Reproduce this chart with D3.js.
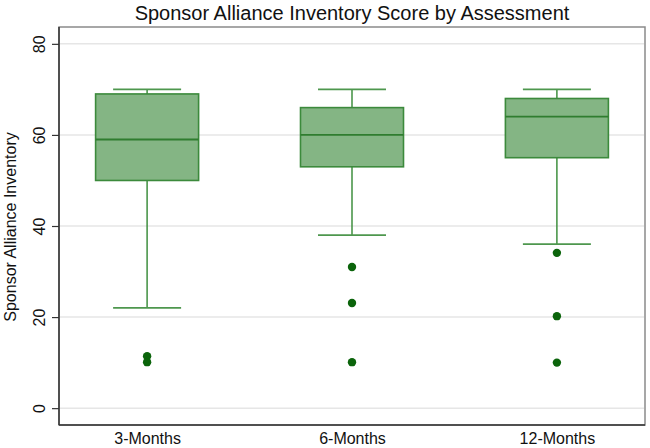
<!DOCTYPE html>
<html>
<head>
    <meta charset="utf-8">
    <title>Sponsor Alliance Inventory</title>
    <script src="https://d3js.org/d3.v7.min.js"></script>
    <style type="text/css">
        body { margin: 0; background: #fff; }
        text { font-family: 'Liberation Sans', Arial, sans-serif; }
    </style>
</head>
<body>
    <script type="text/javascript">
        // data
        var groups = ["3-Months", "6-Months", "12-Months"];
        var q1 = [50, 53, 55];
        var median = [59, 60, 64];
        var q3 = [69, 66, 68];
        var whiskerLow = [22, 38, 36];
        var whiskerHigh = [70, 70, 70];
        var outliers = [[11.4, 10.1], [31, 23.1, 10.1], [34.1, 20.2, 10]];
        var yTicks = [0, 20, 40, 60, 80];

        var width = 650, height = 448;
        var plotL = 59, plotR = 645, plotT = 27, plotB = 425;

        var svg = d3.select("body")
                    .append("svg")
                    .attr("width", width)
                    .attr("height", height);

        var x = d3.scalePoint().domain(groups).range([plotL, plotR]).padding(0.43);
        var y = d3.scaleLinear().domain([-3.7, 83.7]).range([plotB, plotT]);

        // frame
        svg.append("rect")
            .attr("x", plotL).attr("y", plotT)
            .attr("width", plotR - plotL).attr("height", plotB - plotT)
            .attr("fill", "none")
            .attr("stroke", "#8a8a8a")
            .attr("stroke-width", 1.5);

        // grid
        svg.selectAll("line.grid")
            .data(yTicks)
            .enter()
            .append("line")
            .attr("class", "grid")
            .attr("x1", plotL + 1).attr("x2", plotR - 1)
            .attr("y1", function(d) { return y(d); })
            .attr("y2", function(d) { return y(d); })
            .attr("stroke", "#e6e6e6")
            .attr("stroke-width", 1.5);

        // y axis
        var yAxis = svg.append("g")
            .attr("transform", "translate(" + plotL + ",0)")
            .call(d3.axisLeft(y).tickValues(yTicks).tickSize(7).tickPadding(6));
        yAxis.select(".domain").attr("stroke", "#333").attr("stroke-width", 1.5)
            .attr("d", "M0," + plotT + "V" + plotB);
        yAxis.selectAll(".tick line").attr("stroke", "#333").attr("stroke-width", 1.2);
        yAxis.selectAll(".tick text")
            .attr("font-size", "16px")
            .attr("fill", "#111")
            .attr("x", null)
            .attr("y", 0)
            .attr("text-anchor", "middle")
            .attr("transform", "translate(-20,0) rotate(-90)")
            .attr("dy", "0.35em");

        // x axis
        var xAxis = svg.append("g")
            .attr("transform", "translate(0," + plotB + ")")
            .call(d3.axisBottom(x).tickSize(0).tickPadding(8));
        xAxis.select(".domain").attr("stroke", "#333").attr("stroke-width", 1.5)
            .attr("d", "M" + plotL + ",0H" + plotR);
        xAxis.selectAll(".tick text")
            .attr("font-size", "16px")
            .attr("fill", "#111");

        var boxW = 103, capW = 68;
        var boxes = svg.selectAll("g.box")
            .data(groups)
            .enter()
            .append("g")
            .attr("class", "box");

        // whiskers
        boxes.append("line")
            .attr("x1", function(d) { return x(d); })
            .attr("x2", function(d) { return x(d); })
            .attr("y1", function(d, i) { return y(whiskerHigh[i]); })
            .attr("y2", function(d, i) { return y(whiskerLow[i]); })
            .attr("stroke", "#3f8f3f").attr("stroke-width", 1.5);
        [whiskerHigh, whiskerLow].forEach(function(arr) {
            boxes.append("line")
                .attr("x1", function(d) { return x(d) - capW / 2; })
                .attr("x2", function(d) { return x(d) + capW / 2; })
                .attr("y1", function(d, i) { return y(arr[i]); })
                .attr("y2", function(d, i) { return y(arr[i]); })
                .attr("stroke", "#4e974e").attr("stroke-width", 1.8);
        });

        boxes.append("rect")
            .attr("x", function(d) { return x(d) - boxW / 2; })
            .attr("width", boxW)
            .attr("y", function(d, i) { return y(q3[i]); })
            .attr("height", function(d, i) { return y(q1[i]) - y(q3[i]); })
            .attr("fill", "#84b584")
            .attr("stroke", "#3c8a3c")
            .attr("stroke-width", 1.6);

        boxes.append("line")
            .attr("x1", function(d) { return x(d) - boxW / 2; })
            .attr("x2", function(d) { return x(d) + boxW / 2; })
            .attr("y1", function(d, i) { return y(median[i]); })
            .attr("y2", function(d, i) { return y(median[i]); })
            .attr("stroke", "#2f7d2f").attr("stroke-width", 1.8);

        boxes.each(function(d, i) {
            d3.select(this).selectAll("circle")
                .data(outliers[i])
                .enter()
                .append("circle")
                .attr("cx", x(d))
                .attr("cy", function(v) { return y(v); })
                .attr("r", 4.2)
                .attr("fill", "#0b640b");
        });

        // titles
        svg.append("text")
            .attr("x", (plotL + plotR) / 2).attr("y", 20)
            .attr("text-anchor", "middle")
            .attr("font-size", "20px")
            .attr("fill", "#111")
            .text("Sponsor Alliance Inventory Score by Assessment");

        svg.append("text")
            .attr("transform", "translate(16,227) rotate(-90)")
            .attr("text-anchor", "middle")
            .attr("font-size", "16px")
            .attr("fill", "#111")
            .text("Sponsor Alliance Inventory");
    </script>
</body>
</html>
